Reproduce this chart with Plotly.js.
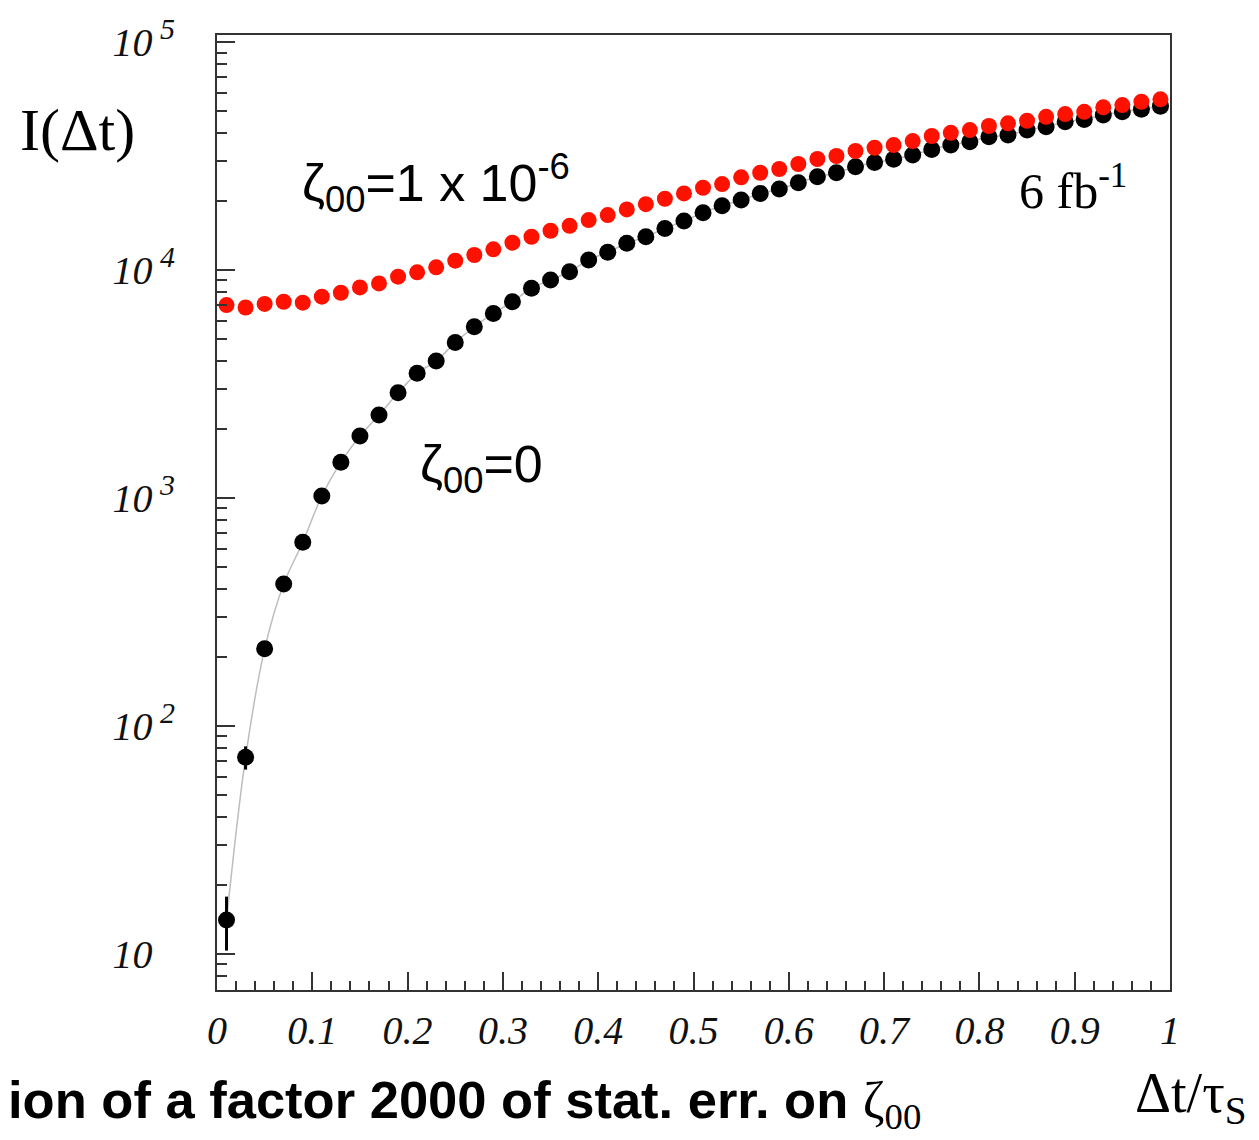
<!DOCTYPE html>
<html>
<head>
<meta charset="utf-8">
<script src="https://cdn.plot.ly/plotly-3.0.1.min.js"></script>
<style>html,body{margin:0;padding:0;background:#fff;}#chart{width:1259px;height:1140px;}</style>
</head>
<body>
<div id="chart"></div>
<script>
// Δt/τS bin centres
const dt = [0.01,0.03,0.05,0.07,0.09,0.11,0.13,0.15,0.17,0.19,
            0.21,0.23,0.25,0.27,0.29,0.31,0.33,0.35,0.37,0.39,
            0.41,0.43,0.45,0.47,0.49,0.51,0.53,0.55,0.57,0.59,
            0.61,0.63,0.65,0.67,0.69,0.71,0.73,0.75,0.77,0.79,
            0.81,0.83,0.85,0.87,0.89,0.91,0.93,0.95,0.97,0.99];
// I(Δt) for ζ00 = 0 (black)
const zeta0 = [14.1,72.9,218,420,640,1021,1436,1872,2312,2896,
               3524,3990,4810,5640,6450,7260,8320,9040,9830,11070,
               11970,13100,14000,15230,16410,17840,19130,20270,21690,22650,
               24140,25650,26720,28380,29600,30590,31940,33820,35320,36530,
               38430,39080,41100,42540,44700,45800,47860,49450,50700,52360];
// statistical errors on the ζ00 = 0 points (√N)
const zeta0Err = [3.75,8.5,14.8,20.5,25.3,32,37.9,43.3,48.1,53.8,
                  59.4,63.2,69.4,75.1,80.3,85.2,91.2,95.1,99.1,105.2,
                  109.4,114.5,118.3,123.4,128.1,133.6,138.3,142.4,147.3,150.5,
                  155.4,160.2,163.5,168.5,172.0,174.9,178.7,183.9,187.9,191.1,
                  196.0,197.7,202.7,206.3,211.4,214.0,218.8,222.4,225.2,228.8];
// I(Δt) for ζ00 = 1 x 10^-6 (red)
const zeta1e6 = [7020,6850,7100,7260,7190,7640,7950,8390,8740,9350,
                 9770,10280,10990,11640,12330,13180,14000,14870,15630,16560,
                 17420,18450,19460,20540,21690,22960,23830,25510,26720,27750,
                 29180,30690,31640,33270,34390,35320,36790,38710,40000,41100,
                 42830,43990,45170,47010,48310,49430,51720,52930,54720,56060];
const yTickVals = [10,100,1000,10000,100000];
const yTickExp = ['', '2', '3', '4', '5'];
const yMinorVals = [8,9,20,30,40,50,60,70,80,90,200,300,400,500,600,700,800,900,
                    2000,3000,4000,5000,6000,7000,8000,9000,20000,30000,40000,50000,60000,70000,80000,90000];

const serif = 'Liberation Serif, Times New Roman, serif';
const sans = 'Liberation Sans, Arial, sans-serif';
const yTickText = yTickExp.map(e => '10<sup><span style="font-size:30px">\u00a0' + (e || '\u00a0\u00a0') + '</span></sup>');

const traces = [
  {x: dt, y: zeta0, type:'scatter', mode:'lines', line:{color:'#bdbdbd', width:1.5, shape:'spline'}, hoverinfo:'skip', showlegend:false},
  {x: dt, y: zeta0, type:'scatter', mode:'markers', marker:{color:'#000', size:17},
   error_y:{type:'data', array: zeta0Err, visible:true, color:'#000', thickness:3, width:0}, showlegend:false},
  {x: dt, y: zeta1e6, type:'scatter', mode:'markers', marker:{color:'#ff1100', size:16}, showlegend:false}
];

const layout = {
  width:1259, height:1140,
  margin:{l:217, r:89, t:35, b:150},
  paper_bgcolor:'#fff', plot_bgcolor:'#fff',
  showlegend:false,
  xaxis:{
    range:[0,1], dtick:0.1, tick0:0,
    ticks:'inside', ticklen:18, tickwidth:2, tickcolor:'#333',
    minor:{dtick:0.02, ticks:'inside', ticklen:9, tickwidth:2, tickcolor:'#333', showgrid:false},
    showline:true, linecolor:'#333', linewidth:2, mirror:true,
    showgrid:false, zeroline:false,
    tickfont:{family:serif, size:40, style:'italic', color:'#111'},
    ticklabelstandoff:4
  },
  yaxis:{
    type:'log', range:[0.842,5.031],
    tickvals:yTickVals, ticktext:yTickText,
    ticks:'inside', ticklen:18, tickwidth:2, tickcolor:'#333',
    minor:{tickmode:'array', tickvals:yMinorVals, ticks:'inside', ticklen:10, tickwidth:2, tickcolor:'#333', showgrid:false},
    showline:true, linecolor:'#333', linewidth:2, mirror:true,
    showgrid:false, zeroline:false,
    tickfont:{family:serif, size:40, style:'italic', color:'#111'},
    ticklabelstandoff:32
  },
  annotations:[
    {text:'I(Δt)', xref:'paper', yref:'paper', x:-0.2088, y:0.9005, xanchor:'left', yanchor:'middle', showarrow:false,
     font:{family:serif, size:60, color:'#000'}},
    {text:'ζ<sub>00</sub>=1 x 10<sup>-6</sup>', xref:'paper', yref:'paper', x:0.0871, y:0.845, xanchor:'left', yanchor:'middle', showarrow:false,
     font:{family:sans, size:52, color:'#000'}},
    {text:'ζ<sub>00</sub>=0', xref:'paper', yref:'paper', x:0.2109, y:0.5466, xanchor:'left', yanchor:'middle', showarrow:false,
     font:{family:sans, size:52, color:'#000'}},
    {text:'6 fb<sup>-1</sup>', xref:'paper', yref:'paper', x:0.8395, y:0.8408, xanchor:'left', yanchor:'middle', showarrow:false,
     font:{family:serif, size:50, color:'#000'}},
    {text:'Δt/τ<sub>S</sub>', xref:'paper', yref:'paper', x:0.9612, y:-0.112, xanchor:'left', yanchor:'middle', showarrow:false,
     font:{family:serif, size:56, color:'#000'}},
    {text:'ion of a factor 2000 of stat. err. on <span style="font-family:Liberation Serif;font-weight:normal">ζ<sub>00</sub></span>', xref:'paper', yref:'paper', x:0.7408, y:-0.156, xanchor:'right', yanchor:'bottom', showarrow:false,
     font:{family:sans, size:52.5, weight:'bold', color:'#000'}}
  ]
};

Plotly.newPlot('chart', traces, layout, {displayModeBar:false, staticPlot:true});
</script>
</body>
</html>
